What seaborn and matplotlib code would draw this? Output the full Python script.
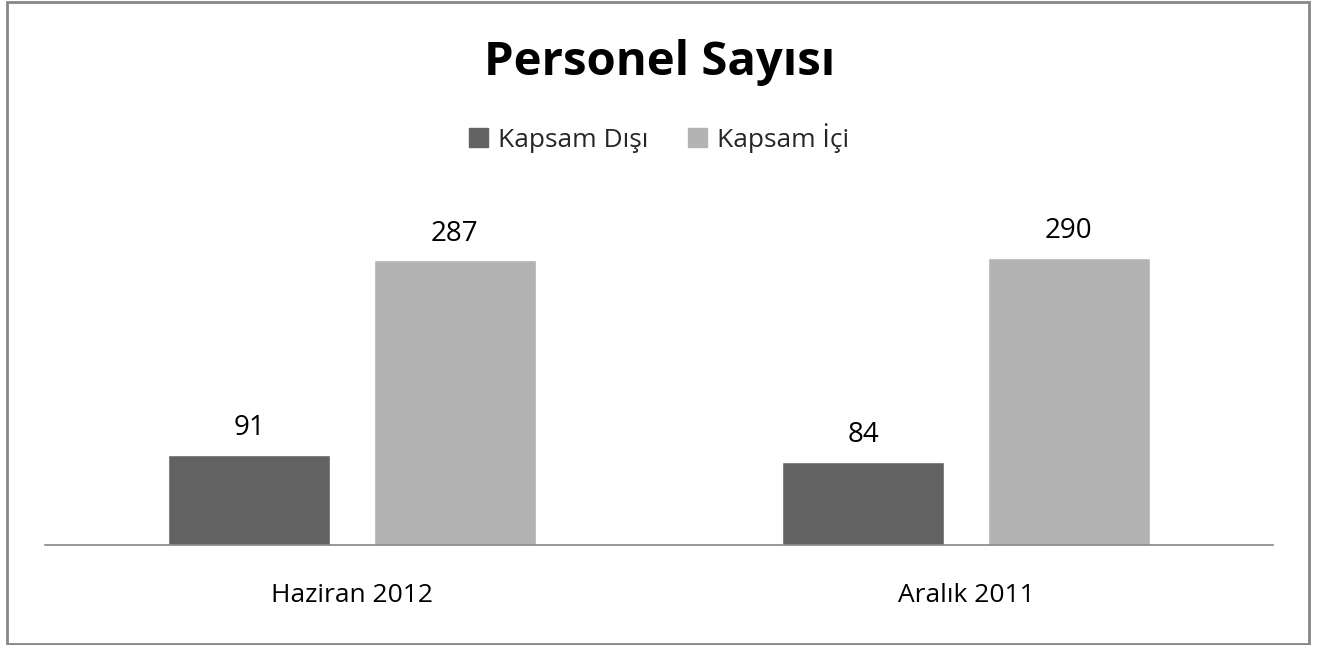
import pandas as pd
import seaborn as sns
import matplotlib.pyplot as plt
from matplotlib.patches import Rectangle

# Veriler
donemler = ["Haziran 2012", "Aralık 2011"]
kapsam_disi = [91, 84]
kapsam_ici = [287, 290]
seriler = ["Kapsam Dışı", "Kapsam İçi"]
renkler = ["#636363", "#b3b3b3"]

df = pd.DataFrame({
    "Dönem": donemler * 2,
    "Tür": [seriler[0]] * 2 + [seriler[1]] * 2,
    "Sayı": kapsam_disi + kapsam_ici,
})

sns.set_theme(style="white")
plt.rcParams["font.family"] = ["Open Sans", "DejaVu Sans"]

fig = plt.figure(figsize=(13.19, 6.45), dpi=100)
ax = fig.add_axes([45 / 1319, 100 / 645, 1228 / 1319, 345 / 645])

sns.barplot(data=df, x="Dönem", y="Sayı", hue="Tür", palette=renkler,
            width=0.668, gap=0.21, saturation=1, ax=ax, legend=False)

ax.set_ylim(0, 348)
ax.set_xlim(-0.5, 1.5)
ax.set_yticks([])
ax.set_xlabel("")
ax.set_ylabel("")
for s in ["top", "left", "right"]:
    ax.spines[s].set_visible(False)
ax.spines["bottom"].set_color("#868686")
ax.spines["bottom"].set_linewidth(1.2)
ax.tick_params(axis="x", length=0, pad=27, labelsize=19, labelcolor="#000000")

# Değer etiketleri
for cont in ax.containers:
    ax.bar_label(cont, padding=9, fontsize=20, color="#000000")

# Başlık
fig.text(0.5, 1 - 75 / 645, "Personel Sayısı", ha="center", va="baseline",
         fontsize=34, fontweight="bold", color="#000000")

# Lejant
handles = [Rectangle((0, 0), 1, 1, color=c) for c in renkler]
fig.legend(handles, seriler, loc="center", bbox_to_anchor=(0.5, 1 - 138 / 645),
           ncol=2, frameon=False, fontsize=19, handlelength=0.7, handleheight=0.7,
           handletextpad=0.4, columnspacing=1.5)

# Çerçeve
fig.patches.append(Rectangle((7 / 1319, 1.5 / 645), 1302 / 1319, 642 / 645,
                             transform=fig.transFigure, fill=False,
                             edgecolor="#878787", linewidth=2, zorder=10))

fig.savefig("out.png", dpi=100)
